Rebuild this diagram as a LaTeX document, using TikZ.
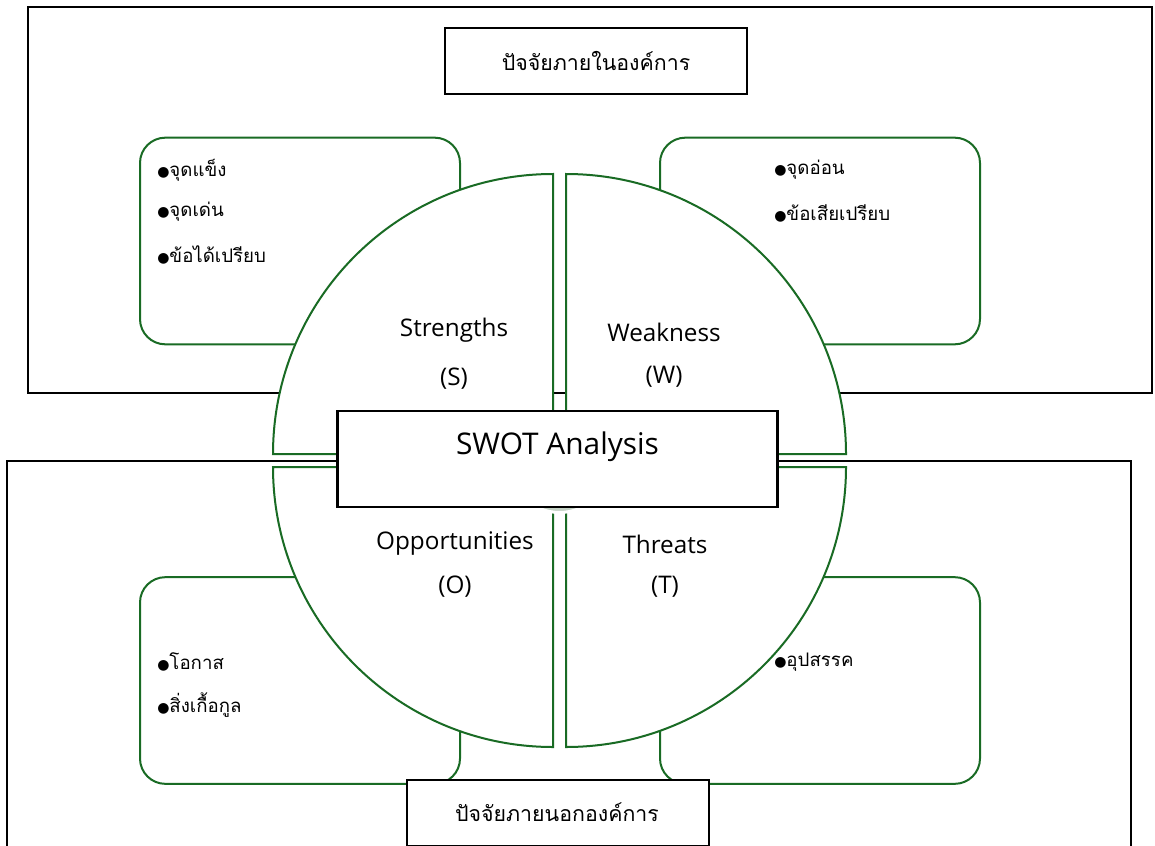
\documentclass[tikz,border=0pt]{standalone}
\usepackage{fontspec}
\setmainfont{Open Sans}
\newfontfamily\thaifont[Script=Thai]{Loma}
\newfontfamily\dotfont{DejaVu Sans}
\definecolor{swotgreen}{HTML}{196B24}
\definecolor{hubgray}{HTML}{C4D2C5}
\newcommand{\bul}{{\dotfont\scalebox{0.75}{●}}}
\tikzset{
  outerbox/.style={draw=black,line width=2pt},
  labelbox/.style={draw=black,fill=white,line width=2pt,minimum width=226.5pt,minimum height=49.5pt,inner sep=0pt,font=\thaifont\fontsize{16}{18}\selectfont},
  greenbox/.style={draw=swotgreen,fill=white,line width=1.5pt,rounded corners=19pt,minimum width=240pt,minimum height=155pt,inner sep=0pt},
  quad/.style={draw=swotgreen,fill=white,line width=1.5pt},
  item/.style={anchor=west,inner sep=0pt,font=\thaifont\fontsize{14}{16}\selectfont},
  part/.style={inner sep=0pt,font=\fontsize{18.2}{20}\selectfont},
}
\begin{document}
\begin{tikzpicture}[x=0.75pt,y=0.75pt]
            \clip (0,0) rectangle (1155,-845);
            \fill [white] (0,0) rectangle (1155,-845);
            % outer frames
            \draw [outerbox] (28,-7) rectangle (1152,-393);
            \draw [outerbox] (7,-461) rectangle (1131,-900);
            \node [labelbox] (inside) at (596,-61) {ปัจจัยภายในองค์การ};
            % rounded boxes
            \node [greenbox] (sbox) at (300,-241) {};
            \node [greenbox] (wbox) at (820,-241) {};
            \node [greenbox] (obox) at (300,-680.5) {};
            \node [greenbox] (tbox) at (820,-680.5) {};
            \node [item] (s1) at (157,-170) {\bul จุดแข็ง};
            \node [item] (s2) at (157,-212) {\bul จุดเด่น};
            \node [item] (s3) at (157,-255) {\bul ข้อได้เปรียบ};
            \node [item] (w1) at (774,-170) {\bul จุดอ่อน};
            \node [item] (w2) at (774,-213) {\bul ข้อเสียเปรียบ};
            \node [item] (o1) at (157,-662) {\bul โอกาส};
            \node [item] (o2) at (157,-705) {\bul สิ่งเกื้อกูล};
            \node [item] (t1) at (774,-662) {\bul อุปสรรค};
            % circle in four parts
            \draw [quad] (553,-454) -- ++(0,280) arc (90:180:280) -- cycle;
            \draw [quad] (566,-454) -- ++(280,0) arc (0:90:280) -- cycle;
            \draw [quad] (553,-467) -- ++(-280,0) arc (180:270:280) -- cycle;
            \draw [quad] (566,-467) -- ++(0,-280) arc (270:360:280) -- cycle;
            \draw [white,fill=hubgray,line width=2.25pt] (559.5,-462.5) circle (50);
            \node [part] (strengths) at (454,-330) {Strengths};
            \node [part] (s) at (454,-379) {(S)};
            \node [part] (weakness) at (664,-332) {Weakness};
            \node [part] (w) at (664,-377) {(W)};
            \node [part] (opportunities) at (455,-544) {Opportunities};
            \node [part] (o) at (455,-587) {(O)};
            \node [part] (threats) at (665,-544) {Threats};
            \node [part] (t) at (665,-587) {(T)};
            % centre
            \node [draw=black,fill=white,line width=2pt,minimum width=330pt,minimum height=72pt] (swot) at (557.5,-459) {};
            \node [inner sep=0pt,font=\fontsize{22.4}{24}\selectfont] (swottext) at (557.5,-447) {SWOT Analysis};
            \node [labelbox] (outside) at (558,-813) {};
            \node [inner sep=0pt,font=\thaifont\fontsize{16}{18}\selectfont] (outsidetext) at (557,-812) {ปัจจัยภายนอกองค์การ};
        \end{tikzpicture}
\end{document}
